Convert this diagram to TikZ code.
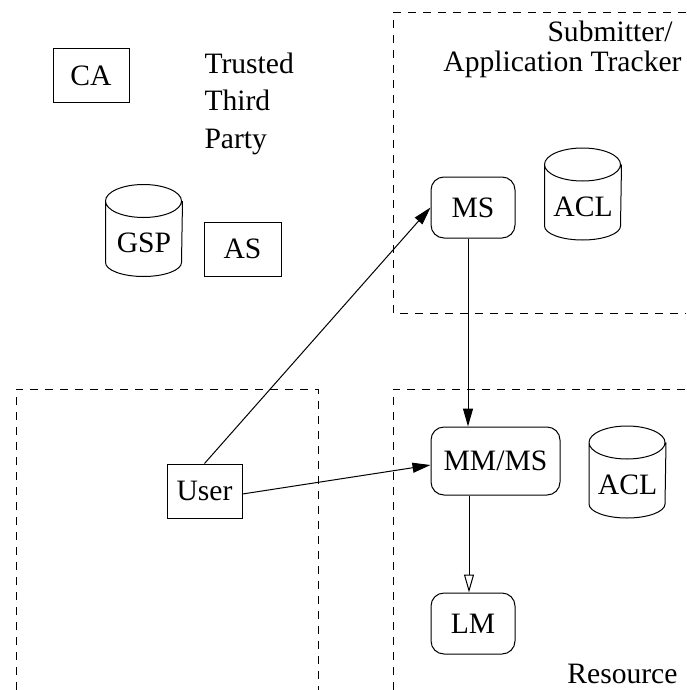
\documentclass[tikz,border=0pt]{standalone}
\usepackage{fontspec}
\setmainfont{Liberation Serif}
\usetikzlibrary{calc,arrows.meta}

% database drum: name, position, label
\newcommand\dbase[3]{%
  \node[dbase] (#1) at #2 {#3};
  \draw ([yshift=-8.25pt]#1.north west) arc[start angle=180,end angle=540,x radius=19pt,y radius=8.25pt]
    -- ([yshift=7pt]#1.south west) arc[start angle=180,end angle=360,x radius=19pt,y radius=7pt]
    -- ([yshift=-8.25pt]#1.north east);
}

\tikzset{
  box/.style={draw,rectangle,inner sep=0pt,minimum width=38pt,minimum height=27pt},
  proc/.style={draw,rectangle,rounded corners=6.5pt,inner sep=0pt,minimum width=42pt,minimum height=30.5pt},
  dbase/.style={rectangle,inner sep=0pt,minimum width=38pt,minimum height=45.5pt,text height=22pt,text depth=0pt},
  zone/.style={dash pattern=on 4pt off 3.5pt}
}

\begin{document}
\begin{tikzpicture}[x=0.5pt,y=-0.5pt,line width=0.5pt,>={Triangle[length=9pt,width=5pt]},font=\fontsize{14.8}{18.75}\selectfont]
\useasboundingbox (0,0) rectangle (686,690);
% zones
\draw[zone] (686,13) -- (393,13) -- (393,313) -- (686,313);
\draw[zone] (16,690) -- (16,389) -- (318,389) -- (318,690);
\draw[zone] (393,690) -- (393,389) -- (686,389);
% trusted third party
\node[box] (ca) at (91,75.5) {CA};
\node[anchor=north west,inner sep=0pt,align=left] (ttp) at (204,52) {Trusted\\Third\\Party};
\dbase{gsp}{(144,230.5)}{GSP}
\node[box,minimum width=38.5pt] (as) at (242.5,249) {AS};
% submitter
\node[anchor=north east,inner sep=0pt,align=right,font=\fontsize{14.8}{15}\selectfont] (sub) at (682,20) {Submitter/\kern4.5pt\\Application Tracker};
\node[proc] (ms) at (473,207.5) {MS};
\dbase{acla}{(583,194)}{ACL}
% resource
\node[proc,minimum width=64.5pt,minimum height=34pt] (mm) at (495.5,461) {MM/MS};
\dbase{aclb}{(627.5,472)}{ACL}
\node[proc] (lm) at (473,623.5) {LM};
\node[anchor=base east,inner sep=0pt] (res) at (678,683) {Resource};
% user
\node[box,minimum width=37.5pt] (user) at (204.5,491) {User};
% requests
\draw[->] (user.north) -- (ms.west);
\draw[->] ([yshift=-1.5pt]user.east) -- ([yshift=-2pt]mm.west);
\draw[->] ([xshift=-2.5pt]ms.south) -- ([xshift=-2.5pt]ms.south |- mm.north);
\draw[-{Triangle[open,length=9pt,width=5pt]}] ([xshift=-2pt]lm.north |- mm.south) -- ([xshift=-2pt]lm.north);
\end{tikzpicture}
\end{document}
